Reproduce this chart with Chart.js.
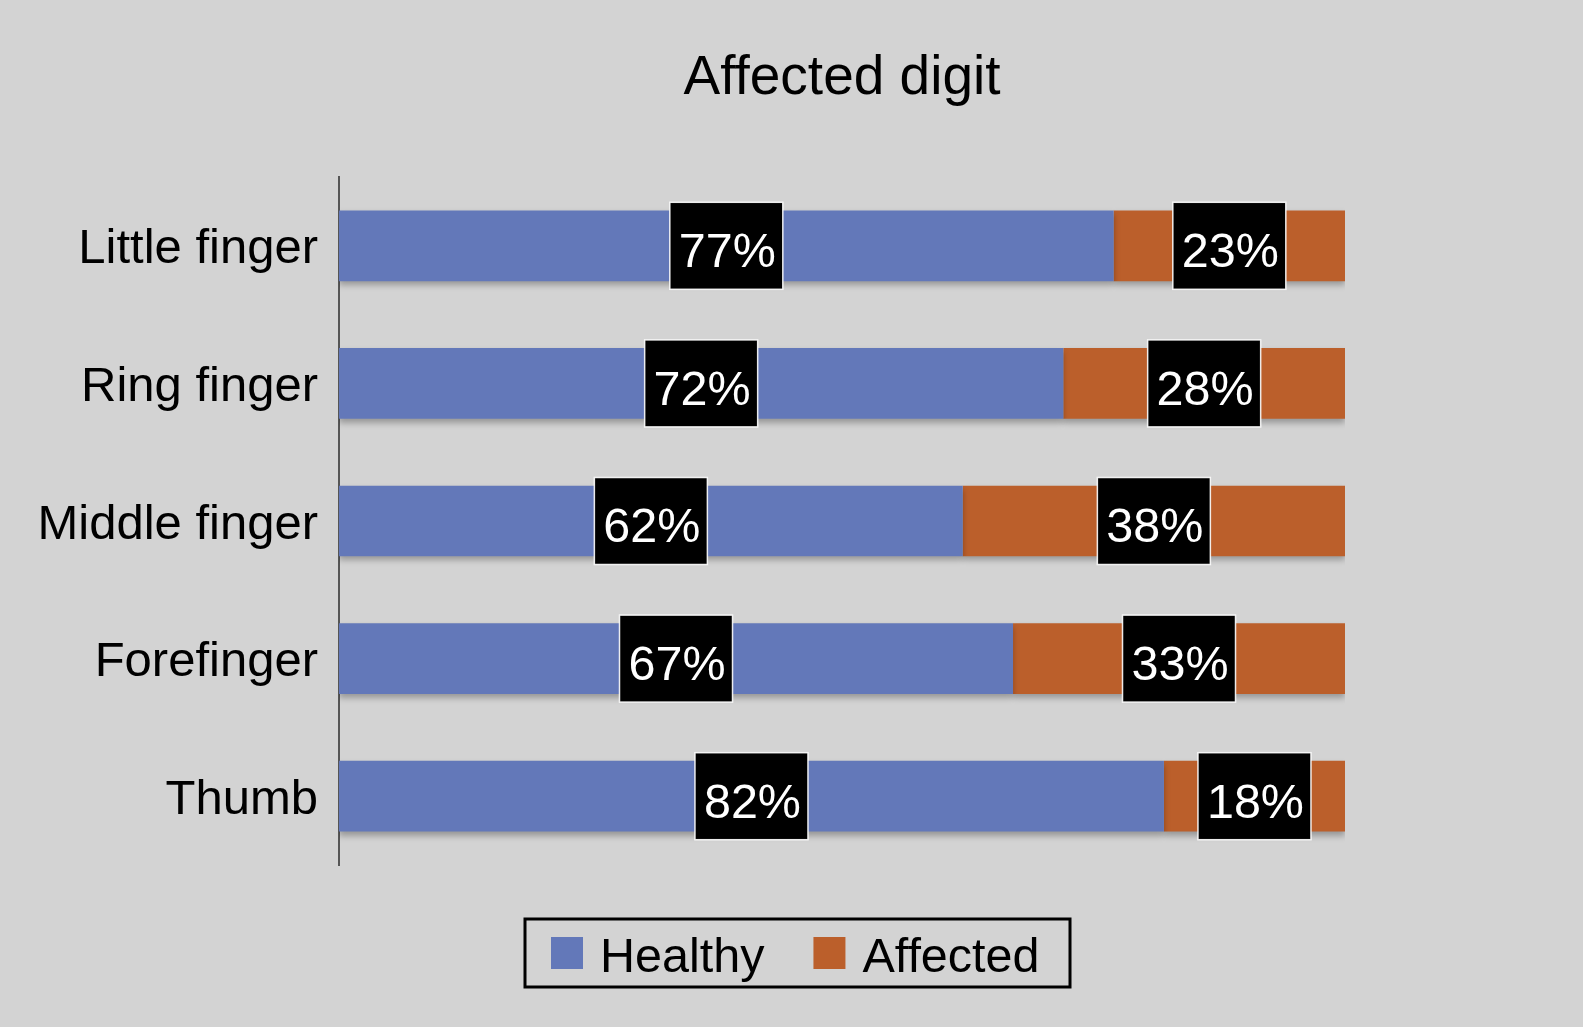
<!DOCTYPE html>
<html>
<head>
<meta charset="utf-8">
<script src="https://cdn.jsdelivr.net/npm/chart.js@4.4.1/dist/chart.umd.min.js"></script>
<style>
  html, body { margin: 0; padding: 0; background: #d3d3d3; }
  #wrap { width: 1583px; height: 1027px; }
</style>
</head>
<body>
<div id="wrap"><canvas id="chart"></canvas></div>
<script>
const digits = ['Little finger', 'Ring finger', 'Middle finger', 'Forefinger', 'Thumb'];
const healthy = [77, 72, 62, 67, 82];
const affected = [23, 28, 38, 33, 18];
const seriesNames = ['Healthy', 'Affected'];
const seriesColors = ['#6378b9', '#bb5f2b'];

const FONT = '"Liberation Sans", Arial, sans-serif';

// soft drop shadow under the bars
const barShadow = {
    id: 'barShadow',
    beforeDatasetsDraw(chart) {
        const ctx = chart.ctx;
        ctx.save();
        ctx.shadowColor = 'rgba(0, 0, 0, 0.28)';
        ctx.shadowBlur = 6;
        ctx.shadowOffsetY = 4;
    },
    afterDatasetsDraw(chart) {
        chart.ctx.restore();
    }
};

// black boxes with the percentage in the middle of each segment
const valueBoxes = {
    id: 'valueBoxes',
    afterDatasetsDraw(chart) {
        const ctx = chart.ctx;
        ctx.save();
        ctx.font = '48.5px ' + FONT;
        ctx.textAlign = 'center';
        ctx.textBaseline = 'middle';
        chart.data.datasets.forEach((ds, i) => {
            chart.getDatasetMeta(i).data.forEach((bar, j) => {
                const cx = (bar.base + bar.x) / 2;
                const cy = bar.y;
                const w = 113, h = 87;
                ctx.fillStyle = '#000';
                ctx.fillRect(cx - w / 2, cy - h / 2, w, h);
                ctx.strokeStyle = 'rgba(255,255,255,0.9)';
                ctx.lineWidth = 1.5;
                ctx.strokeRect(cx - w / 2, cy - h / 2, w, h);
                ctx.fillStyle = '#fff';
                ctx.fillText(ds.data[j] + '%', cx + 1, cy + 8);
            });
        });
        ctx.restore();
    }
};

// framed legend below the plot
const framedLegend = {
    id: 'framedLegend',
    afterDraw(chart) {
        const ctx = chart.ctx;
        const left = 525, top = 919, right = 1070, bottom = 987;
        ctx.save();
        ctx.lineWidth = 3;
        ctx.strokeStyle = '#000';
        ctx.strokeRect(left, top, right - left, bottom - top);
        ctx.font = '48.5px ' + FONT;
        ctx.textBaseline = 'middle';
        ctx.textAlign = 'left';
        const cy = (top + bottom) / 2;
        let x = 551;
        chart.data.datasets.forEach((ds, i) => {
            ctx.fillStyle = ds.backgroundColor;
            ctx.fillRect(x, cy - 16, 32, 32);
            ctx.fillStyle = '#000';
            ctx.fillText(ds.label, x + 49, cy + 6);
            x += 49 + ctx.measureText(ds.label).width + 49;
        });
        ctx.restore();
    }
};

new Chart(document.getElementById('chart'), {
    type: 'bar',
    data: {
        labels: digits,
        datasets: [
            { label: seriesNames[0], data: healthy, backgroundColor: seriesColors[0] },
            { label: seriesNames[1], data: affected, backgroundColor: seriesColors[1] }
        ]
    },
    options: {
        indexAxis: 'y',
        responsive: true,
        maintainAspectRatio: false,
        animation: false,
        devicePixelRatio: 1,
        datasets: {
            bar: { barPercentage: 0.514, categoryPercentage: 1, borderWidth: 0 }
        },
        layout: {
            padding: { left: 0, right: 238, top: 0, bottom: 162 }
        },
        scales: {
            x: {
                stacked: true,
                min: 0,
                max: 100,
                display: false
            },
            y: {
                stacked: true,
                grid: { display: false, drawTicks: false },
                border: { display: true, color: '#555555', width: 2 },
                ticks: {
                    color: '#000',
                    padding: 21,
                    labelOffset: 4,
                    font: { family: FONT, size: 49 }
                },
                afterFit(scale) {
                    scale.width = 339;
                }
            }
        },
        plugins: {
            legend: { display: false },
            tooltip: { enabled: false },
            title: {
                display: true,
                text: 'Affected digit',
                fullSize: false,
                color: '#000',
                font: { family: FONT, size: 55, weight: 'normal' },
                padding: { top: 46, bottom: 65 }
            }
        }
    },
    plugins: [barShadow, valueBoxes, framedLegend]
});
</script>
</body>
</html>
